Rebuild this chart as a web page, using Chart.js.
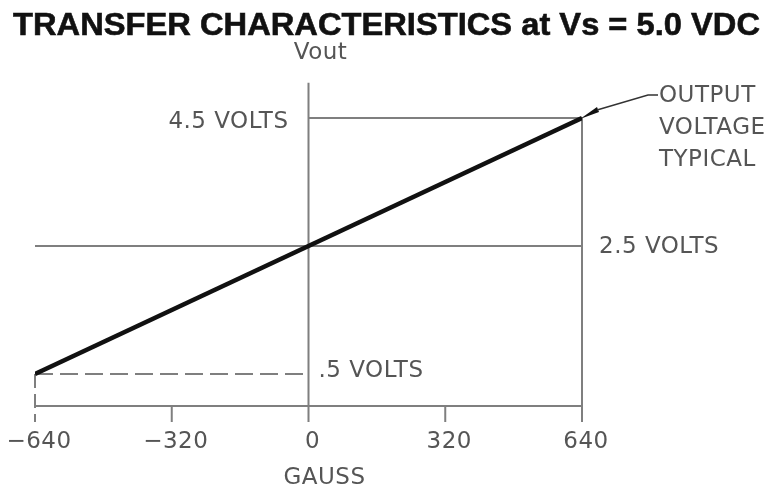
<!DOCTYPE html>
<html>
<head>
<meta charset="utf-8">
<title>Transfer Characteristics</title>
<script src="https://cdn.jsdelivr.net/npm/chart.js@4/dist/chart.umd.min.js"></script>
<style>
  html, body { margin: 0; padding: 0; background: #fff; }
  #wrap { width: 775px; height: 490px; position: relative; }
</style>
</head>
<body>
<div id="wrap"><canvas id="transferChart" width="775" height="490"></canvas></div>
<script>
  // Data
  const chartTitle = "TRANSFER CHARACTERISTICS at Vs = 5.0 VDC";
  const gaussTicks = [-640, -320, 0, 320, 640];
  const outputGauss = [-640, 640];
  const outputVolts = [0.5, 4.5];
  const levelVolts = [4.5, 2.5, 0.5];
  const levelLabels = ["4.5 VOLTS", "2.5 VOLTS", ".5 VOLTS"];
  const outputNote = ["OUTPUT", "VOLTAGE", "TYPICAL"];
  const xAxisName = "GAUSS";
  const yAxisName = "Vout";
  const voutAxisTop = 5.05;

  const GRID = "#7f7f7f";
  const TEXT = "#555";
  const LABEL_FONT = "23px 'DejaVu Sans'";
  const TICK_LEN = 16;
  const DASH = [18, 7];

  function fmtTick(v) {
    return v < 0 ? "\u2212" + Math.abs(v) : String(v);
  }

  // Drafting-style guides: axis, level lines, dashed projections
  const guidePlugin = {
    id: "guides",
    beforeDatasetsDraw(chart) {
      const ctx = chart.ctx;
      const xs = chart.scales.x, ys = chart.scales.y;
      const px = v => xs.getPixelForValue(v);
      const py = v => ys.getPixelForValue(v);
      const xMin = gaussTicks[0], xMax = gaussTicks[gaussTicks.length - 1];
      const y0 = py(0);
      const yTick = y0 + TICK_LEN;

      ctx.save();
      ctx.strokeStyle = GRID;
      ctx.lineWidth = 2;

      function seg(x1, y1, x2, y2, dash) {
        ctx.setLineDash(dash || []);
        ctx.beginPath();
        ctx.moveTo(x1, y1);
        ctx.lineTo(x2, y2);
        ctx.stroke();
      }

      // horizontal axis
      seg(px(xMin), y0, px(xMax), y0);
      // tick marks
      gaussTicks.forEach(t => {
        if (t === xMin || t === 0 || t === xMax) return;
        seg(px(t), y0, px(t), yTick);
      });
      // Vout axis
      seg(px(0), py(voutAxisTop), px(0), yTick);
      // right edge at full scale
      seg(px(xMax), py(levelVolts[0]), px(xMax), yTick);
      // level lines
      seg(px(0), py(levelVolts[0]), px(xMax), py(levelVolts[0]));
      seg(px(xMin), py(levelVolts[1]), px(xMax), py(levelVolts[1]));
      seg(px(xMin), py(levelVolts[2]), px(0), py(levelVolts[2]), DASH);
      seg(px(xMin), py(levelVolts[2]), px(xMin), yTick, [14, 6]);

      ctx.restore();
    },

    afterDraw(chart) {
      const ctx = chart.ctx;
      const xs = chart.scales.x, ys = chart.scales.y;
      const px = v => xs.getPixelForValue(v);
      const py = v => ys.getPixelForValue(v);
      const y0 = py(0);

      ctx.save();
      ctx.fillStyle = TEXT;
      ctx.font = LABEL_FONT;
      ctx.letterSpacing = "0.5px";
      ctx.textBaseline = "middle";

      // tick labels
      ctx.textAlign = "center";
      gaussTicks.forEach(t => ctx.fillText(fmtTick(t), px(t) + 4, y0 + 36));
      ctx.fillText(xAxisName, px(0) + 16, y0 + 72);
      ctx.fillText(yAxisName, px(0) + 12, 53);

      // level labels
      ctx.textAlign = "right";
      ctx.fillText(levelLabels[0], px(0) - 20, py(levelVolts[0]) + 4);
      ctx.textAlign = "left";
      ctx.fillText(levelLabels[1], px(gaussTicks[4]) + 17, py(levelVolts[1]) + 1);
      ctx.fillText(levelLabels[2], px(0) + 10, py(levelVolts[2]) - 3);

      // leader to the line end
      const ex = px(outputGauss[1]), ey = py(outputVolts[1]);
      ctx.fillStyle = "#111";
      ctx.beginPath();
      ctx.moveTo(ex - 2, ey + 1);
      ctx.lineTo(ex + 15, ey - 11);
      ctx.lineTo(ex + 17, ey - 6);
      ctx.closePath();
      ctx.fill();
      ctx.strokeStyle = "#333";
      ctx.lineWidth = 1.5;
      ctx.beginPath();
      ctx.moveTo(ex + 15, ey - 8);
      ctx.lineTo(ex + 66, ey - 23);
      ctx.lineTo(ex + 76, ey - 23);
      ctx.stroke();

      ctx.fillStyle = TEXT;
      outputNote.forEach((s, i) => ctx.fillText(s, ex + 77, ey - 22 + i * 32));

      // title, fitted to the reference width
      ctx.letterSpacing = "0px";
      ctx.fillStyle = "#111";
      ctx.strokeStyle = "#111";
      ctx.lineWidth = 0.6;
      ctx.font = "bold 32px 'Liberation Sans', Arial, sans-serif";
      ctx.textBaseline = "alphabetic";
      ctx.textAlign = "left";
      const w = ctx.measureText(chartTitle).width;
      ctx.translate(13, 35);
      ctx.scale(747 / w, 1);
      ctx.fillText(chartTitle, 0, 0);
      ctx.strokeText(chartTitle, 0, 0);
      ctx.restore();
    }
  };

  new Chart(document.getElementById("transferChart"), {
    type: "line",
    data: {
      datasets: [{
        label: "Output voltage typical",
        data: outputGauss.map((g, i) => ({ x: g, y: outputVolts[i] })),
        borderColor: "#111",
        borderWidth: 4.5,
        pointRadius: 0,
        fill: false,
        tension: 0
      }]
    },
    options: {
      responsive: false,
      animation: false,
      devicePixelRatio: 1,
      layout: {
        padding: { left: 35, right: 193, top: 54, bottom: 20 }
      },
      plugins: {
        legend: { display: false },
        title: { display: false },
        tooltip: { enabled: false }
      },
      scales: {
        x: { type: "linear", min: -640, max: 640, display: false },
        y: { type: "linear", min: -1, max: 5.5, display: false }
      }
    },
    plugins: [guidePlugin]
  });
</script>
</body>
</html>
